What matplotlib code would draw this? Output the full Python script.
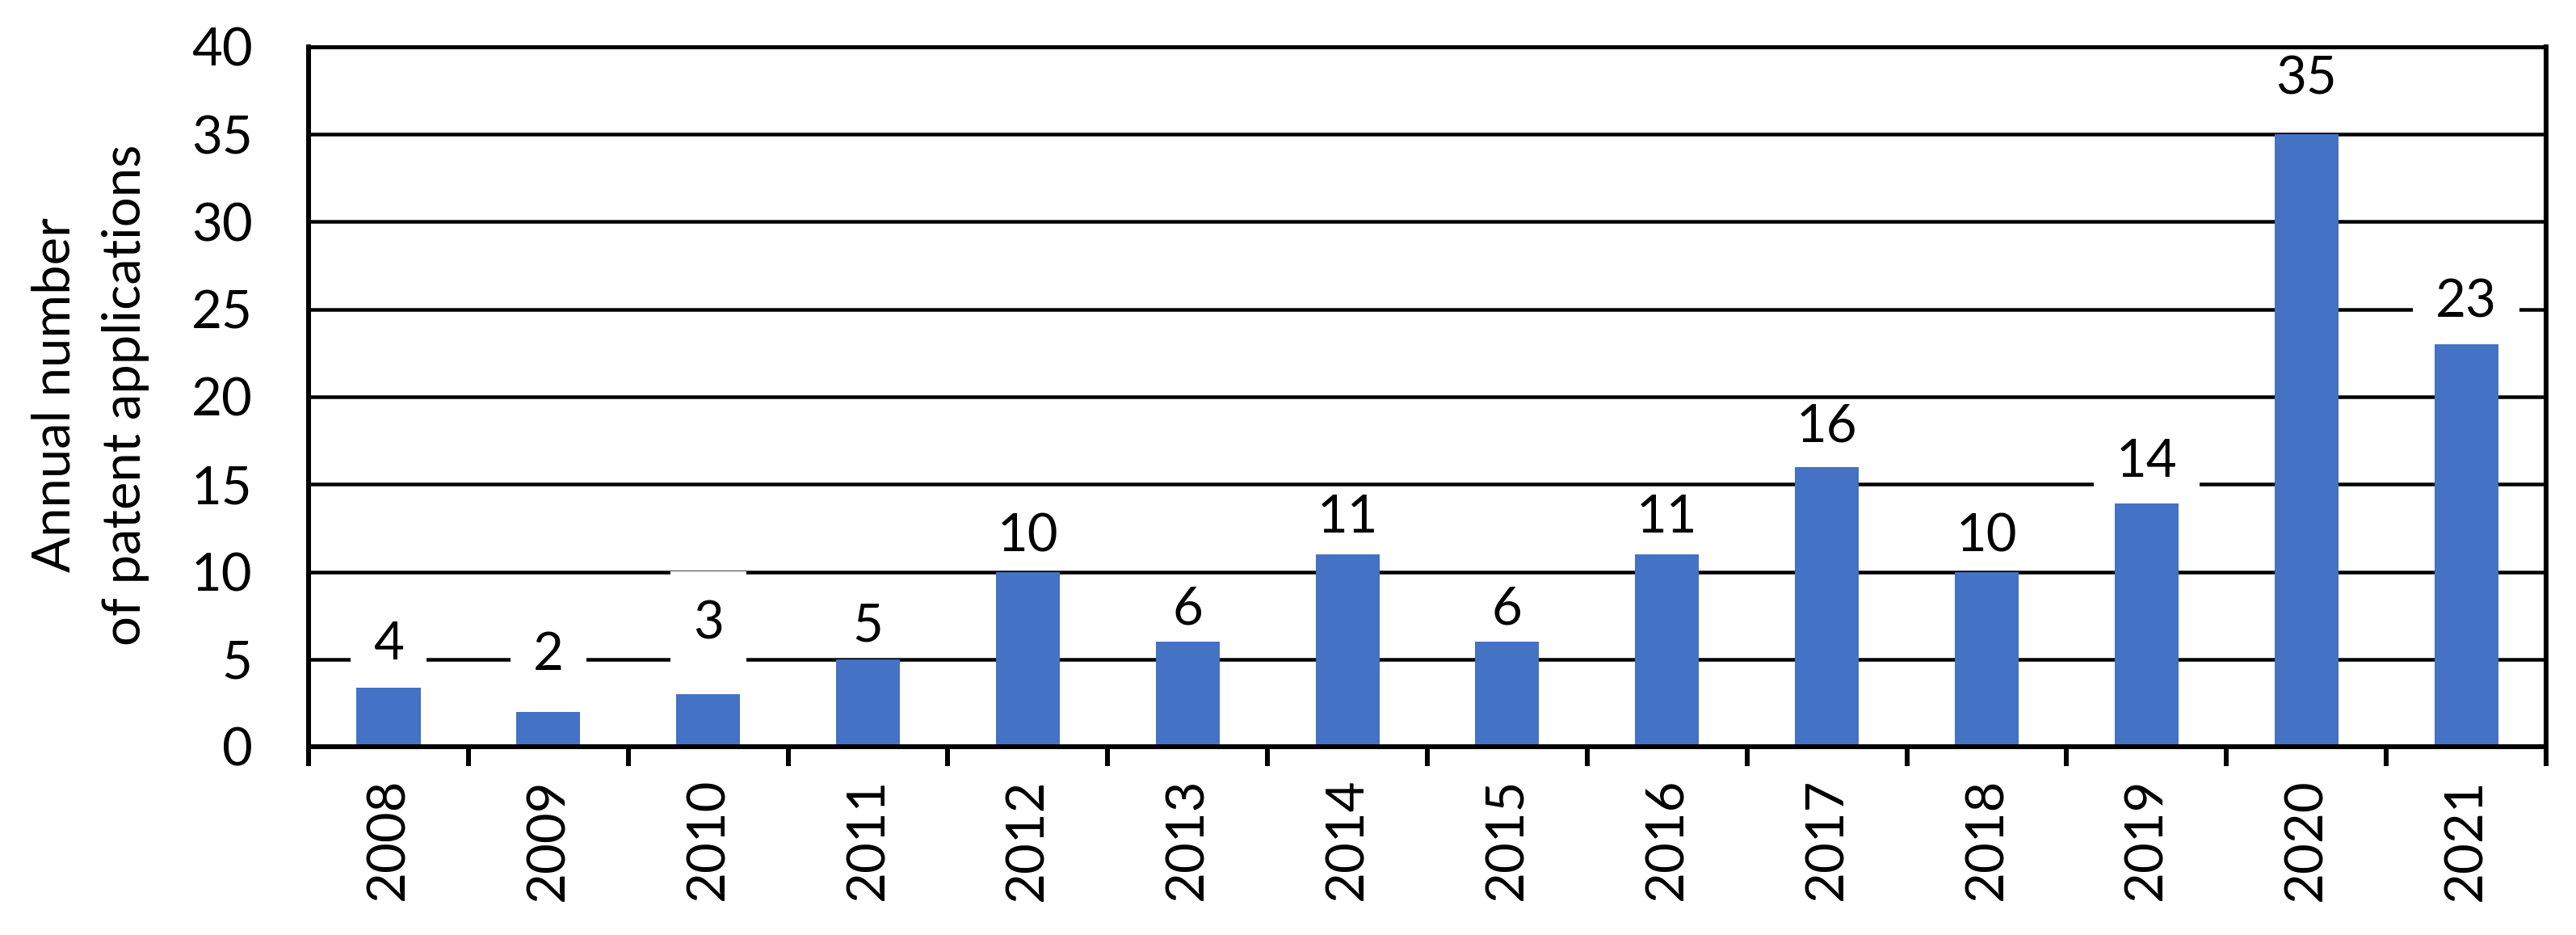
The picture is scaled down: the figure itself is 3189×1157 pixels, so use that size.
import matplotlib
matplotlib.use("Agg")
import matplotlib.pyplot as plt
from matplotlib.path import Path
import numpy as np

# ---- data ----
years = ['2008', '2009', '2010', '2011', '2012', '2013', '2014',
         '2015', '2016', '2017', '2018', '2019', '2020', '2021']
bar_heights = [3.35, 2, 3, 5, 10, 6, 11, 6, 11, 16, 10, 13.9, 35, 23]
bar_labels = ['4', '2', '3', '5', '10', '6', '11', '6', '11', '16', '10', '14', '35', '23']
yticks = [0, 5, 10, 15, 20, 25, 30, 35, 40]
ylabel_text = "Annual number\nof patent applications"

# label lift above bar top (pixels, at dpi 100)
label_gap_px = [35, 52, 69, 22, 25, 22, 27, 22, 27, 31, 25, 33, 50, 34]
# extra (top, bottom) padding of the white label box, pixels
label_box_extra_px = [(0, 0), (0, 0), (32, 28), (0, 0), (0, 0), (0, 0), (0, 0),
                      (0, 0), (0, 0), (0, 0), (0, 0), (0, 0), (0, 0), (0, 0)]

DPI = 100
W, H = 3189, 1157
PX = 72.0 / DPI  # points per pixel

plt.rcParams['font.family'] = ['Lato', 'DejaVu Sans']
FS = 47

fig = plt.figure(figsize=(W / DPI, H / DPI), dpi=DPI)
left, right, top, bottom = 382, 3152, 58, 924
ax = fig.add_axes([left / W, 1 - bottom / H, (right - left) / W, (bottom - top) / H])

x = np.arange(len(years))
ax.bar(x, bar_heights, width=0.40, color='#4472C4', zorder=2)

ax.set_xlim(-0.5, len(years) - 0.5)
ax.set_ylim(0, 40)

# gridlines
ax.set_yticks(yticks)
ax.yaxis.grid(True, color='black', linewidth=4.5 * PX)
ax.set_axisbelow(True)
ax.tick_params(axis='y', length=0, pad=50, labelsize=FS)

# x ticks: marks at boundaries, labels at centres
ax.set_xticks(np.arange(-0.5, len(years), 1.0))
ax.set_xticklabels([])
ax.set_xticks(x, minor=True)
ax.set_xticklabels(years, minor=True, rotation=90, fontsize=FS)
ax.tick_params(axis='x', which='major', direction='out', length=24 * PX, width=6 * PX, color='black')
ax.tick_params(axis='x', which='minor', length=0, pad=28)

for s in ['left', 'bottom', 'right']:
    ax.spines[s].set_linewidth(6 * PX)
    ax.spines[s].set_color('black')
ax.spines['top'].set_linewidth(5 * PX)
ax.spines['top'].set_color('black')


def make_box(extra_top, extra_bot):
    def label_box(x0, y0, width, height, mutation_size):
        padx = 28.0
        pad_top = 3.0 + extra_top
        pad_bot = 5.0 + extra_bot
        xa, xb = x0 - padx, x0 + width + padx
        ya, yb = y0 - pad_bot, y0 + height + pad_top
        return Path([(xa, ya), (xb, ya), (xb, yb), (xa, yb), (xa, ya)],
                    [Path.MOVETO, Path.LINETO, Path.LINETO, Path.LINETO, Path.CLOSEPOLY])
    return label_box


for i, (v, lab, g, ex) in enumerate(zip(bar_heights, bar_labels, label_gap_px, label_box_extra_px)):
    ax.annotate(lab, xy=(i, v), xytext=(0, g * PX), textcoords='offset points',
                ha='center', va='baseline', fontsize=FS, color='black', zorder=1.5,
                bbox=dict(boxstyle=make_box(*ex), facecolor='white', edgecolor='none'))

fig.text(112 / W, 1 - 489 / H, ylabel_text, rotation=90, ha='center', va='center',
         multialignment='center', fontsize=FS, linespacing=1.6)

fig.savefig('out.png', dpi=DPI, facecolor='white')
